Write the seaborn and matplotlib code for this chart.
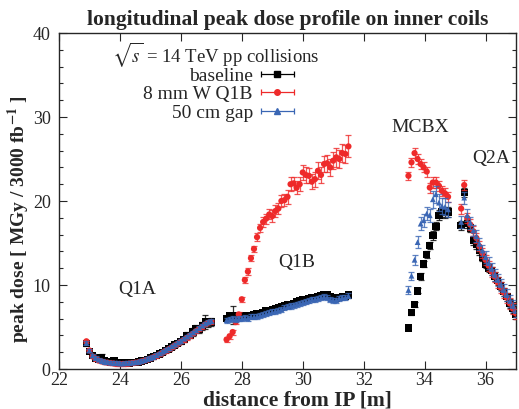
import numpy as np
import pandas as pd
import matplotlib
matplotlib.use("Agg")
import matplotlib.pyplot as plt
import seaborn as sns
from matplotlib.legend_handler import HandlerErrorbar
from matplotlib.container import ErrorbarContainer
from matplotlib.ticker import MultipleLocator

# ---------------- data ----------------
series_names = ["baseline", "8 mm W Q1B", "50 cm gap"]
series_colors = ["#000000", "#ee2a2a", "#3a66b4"]
series_markers = ["s", "o", "^"]

# Q1A region
x_q1a = np.round(np.arange(22.9, 27.05, 0.1), 2)
base_q1a = [3.0, 2.1, 1.6, 1.3, 1.2, 1.4, 1.0, 0.9, 0.85, 1.0, 0.8, 0.75, 0.7, 0.7,
            0.7, 0.75, 0.8, 0.85, 0.95, 1.05, 1.15, 1.3, 1.45, 1.6, 1.8, 2.0, 2.2,
            2.4, 2.6, 2.85, 3.05, 3.3, 3.5, 4.0, 4.0, 4.4, 4.85, 4.7, 5.1, 5.6, 5.5, 5.6]
red_q1a = [3.3, 2.2, 1.5, 1.2, 1.0, 0.9, 0.8, 0.75, 0.7, 0.65, 0.6, 0.6, 0.6, 0.6,
           0.65, 0.7, 0.75, 0.8, 0.9, 1.0, 1.1, 1.25, 1.4, 1.55, 1.75, 1.95, 2.15,
           2.35, 2.55, 2.8, 3.0, 3.25, 3.45, 3.7, 3.95, 4.2, 4.5, 4.75, 5.0, 5.3, 5.5, 5.6]
blue_q1a = [3.1, 2.2, 1.6, 1.3, 1.1, 0.95, 0.85, 0.8, 0.75, 0.7, 0.7, 0.65, 0.65, 0.7,
            0.7, 0.75, 0.8, 0.85, 0.95, 1.05, 1.2, 1.3, 1.45, 1.65, 1.85, 2.05, 2.25,
            2.45, 2.7, 2.9, 3.15, 3.35, 3.6, 3.85, 4.1, 4.35, 4.6, 4.9, 5.15, 5.4, 5.6, 5.7]
base_q1a_err = [0.3, 0.2, 0.2, 0.2, 0.3, 0.4, 0.2, 0.2, 0.2, 0.3, 0.2, 0.2, 0.2, 0.2,
                0.2, 0.2, 0.2, 0.2, 0.2, 0.2, 0.2, 0.2, 0.2, 0.2, 0.2, 0.2, 0.2,
                0.2, 0.2, 0.2, 0.2, 0.3, 0.3, 0.4, 0.3, 0.5, 0.4, 0.4, 0.5, 0.8, 0.5, 0.5]
red_q1a_err = [0.2] * 42
blue_q1a_err = [0.2] * 42

# Q1B region
x_q1b = np.round(np.arange(27.5, 31.55, 0.1), 2)
base_q1b = [6.0, 6.3, 6.4, 6.2, 6.3, 6.3, 6.4, 6.4, 6.4, 6.5, 6.6, 6.6, 6.7, 6.9,
            7.0, 7.1, 7.2, 7.3, 7.4, 7.5, 7.6, 7.7, 7.8, 8.0, 8.1, 8.2, 8.3, 8.4,
            8.5, 8.5, 8.6, 8.7, 8.8, 8.8, 8.6, 8.5, 8.4, 8.5, 8.6, 8.6, 8.8]
red_q1b = [3.5, 3.9, 4.4, 5.6, 6.5, 8.3, 10.6, 11.6, 13.2, 14.3, 15.7, 16.8, 17.5,
           17.9, 18.4, 18.2, 18.8, 19.1, 20.0, 20.1, 20.5, 22.0, 22.1, 21.6, 22.0,
           23.4, 23.1, 23.0, 22.3, 22.6, 23.6, 23.1, 24.4, 24.5, 24.0, 24.8, 25.2,
           25.0, 25.7, 25.6, 26.5]
blue_q1b = [5.8, 5.9, 6.0, 5.9, 6.0, 6.0, 6.1, 6.0, 6.2, 6.2, 6.3, 6.4, 6.5, 6.6,
            6.7, 6.8, 6.9, 7.0, 7.1, 7.3, 7.4, 7.5, 7.6, 7.7, 7.8, 7.9, 8.0, 8.1,
            8.3, 8.3, 8.4, 8.5, 8.6, 8.5, 8.3, 8.2, 8.2, 8.4, 8.5, 8.5, 8.7]
base_q1b_err = [0.3, 0.4, 1.1, 0.3, 0.3, 0.3, 0.3, 0.3, 0.3, 0.3, 0.3, 0.3, 0.3, 0.3,
                0.3, 0.3, 0.3, 0.3, 0.3, 0.3, 0.3, 0.3, 0.3, 0.3, 0.3, 0.3, 0.3, 0.3,
                0.3, 0.3, 0.3, 0.3, 0.3, 0.3, 0.3, 0.3, 0.3, 0.3, 0.3, 0.3, 0.3]
red_q1b_err = [0.3, 0.3, 0.3, 0.3, 0.3, 0.3, 0.4, 0.4, 0.4, 0.4, 0.5, 0.5, 0.6, 0.6,
               0.6, 0.7, 0.7, 0.7, 0.7, 0.7, 0.8, 0.8, 0.8, 0.8, 0.8, 0.9, 0.9, 0.9,
               0.9, 0.9, 1.0, 1.0, 1.0, 1.0, 1.0, 1.0, 1.1, 1.1, 1.1, 1.1, 1.3]
blue_q1b_err = [0.3] * 41

# MCBX region
x_mcbx = np.round(np.arange(33.47, 34.80, 0.1), 2)
base_mcbx = [4.9, 6.7, 7.7, 9.3, 11.0, 12.5, 13.6, 14.7, 15.9, 17.0, 18.3, 18.7, 18.6, 18.7]
red_mcbx = [23.0, 24.6, 25.7, 25.0, 24.4, 24.0, 23.5, 21.6, 22.2, 22.2, 21.8, 21.2, 20.9, 20.5]
blue_mcbx = [9.4, 11.1, 13.0, 15.1, 17.3, 17.7, 18.5, 18.3, 20.2, 20.8, 19.8, 19.4, 19.3, 19.0]
base_mcbx_err = [0.2, 0.3, 0.3, 0.3, 0.4, 0.4, 0.4, 0.4, 0.5, 0.5, 0.6, 0.6, 0.6, 0.6]
red_mcbx_err = [0.5, 0.5, 0.6, 0.6, 0.6, 0.6, 0.6, 0.6, 0.6, 0.6, 0.6, 0.6, 0.6, 0.6]
blue_mcbx_err = [0.5, 0.5, 0.6, 0.7, 0.8, 0.8, 0.8, 0.8, 1.0, 1.0, 1.0, 1.0, 1.0, 0.9]

# Q2A region
x_q2a = np.round(np.arange(35.2, 37.05, 0.1), 2)
base_q2a = [17.1, 21.0, 17.3, 16.8, 15.3, 14.8, 14.1, 13.3, 12.5, 12.0, 11.7, 11.0,
            10.5, 9.9, 9.2, 8.6, 7.8, 7.2, 6.5]
red_q2a = [19.1, 21.9, 18.0, 17.2, 16.4, 15.6, 14.6, 13.8, 13.0, 12.3, 11.6, 11.0,
           10.3, 9.7, 9.1, 8.5, 7.8, 7.2, 6.6]
blue_q2a = [17.5, 20.4, 18.3, 17.4, 16.5, 15.8, 14.9, 14.1, 13.3, 12.6, 11.9, 11.2,
            10.6, 10.0, 9.4, 8.8, 8.1, 7.5, 6.9]
base_q2a_err = [0.5] * 19
red_q2a_err = [0.6] * 19
blue_q2a_err = [0.7] * 19

region_labels = ["Q1A", "Q1B", "MCBX", "Q2A"]
region_label_x = [24.56, 29.81, 33.85, 36.2]
region_label_y = [9.5, 12.7, 28.7, 25.0]

# ---------------- build long table ----------------
xs = [x_q1a, x_q1b, x_mcbx, x_q2a]
vals = {
    "baseline": ([base_q1a, base_q1b, base_mcbx, base_q2a],
                 [base_q1a_err, base_q1b_err, base_mcbx_err, base_q2a_err]),
    "8 mm W Q1B": ([red_q1a, red_q1b, red_mcbx, red_q2a],
                   [red_q1a_err, red_q1b_err, red_mcbx_err, red_q2a_err]),
    "50 cm gap": ([blue_q1a, blue_q1b, blue_mcbx, blue_q2a],
                  [blue_q1a_err, blue_q1b_err, blue_mcbx_err, blue_q2a_err]),
}
rows = []
for name, (ys, es) in vals.items():
    for xx, yy, ee in zip(xs, ys, es):
        for a, b, c in zip(xx, yy, ee):
            rows.append((name, a, b, c))
df = pd.DataFrame(rows, columns=["series", "x", "dose", "err"])

# ---------------- plot ----------------
sns.set_theme(style="ticks")
plt.rcParams["font.family"] = ["Liberation Serif", "DejaVu Serif"]
plt.rcParams["mathtext.fontset"] = "stix"

fig = plt.figure(figsize=(5.19, 4.09), dpi=100)
ax = fig.add_axes([59 / 519, 1 - 369 / 409, 457 / 519, 336 / 409])

sizes = {"baseline": 28, "8 mm W Q1B": 20, "50 cm gap": 17}
for i, (name, col, mk) in enumerate(zip(series_names, series_colors, series_markers)):
    sub = df[df["series"] == name]
    ax.errorbar(sub["x"], sub["dose"], yerr=sub["err"], fmt="none", ecolor=col,
                elinewidth=0.9, capsize=2.5, capthick=0.9, alpha=0.8, zorder=2 + 2 * i)
    sns.scatterplot(data=sub, x="x", y="dose", marker=mk, color=col, s=sizes[name],
                    edgecolor="none", linewidth=0, ax=ax, legend=False, zorder=3 + 2 * i)

for t, lx, ly in zip(region_labels, region_label_x, region_label_y):
    ax.text(lx, ly, t, ha="center", va="center", fontsize=14)

ax.set_xlim(22, 37)
ax.set_ylim(0, 40)
ax.xaxis.set_major_locator(MultipleLocator(2))
ax.yaxis.set_major_locator(MultipleLocator(10))
ax.yaxis.set_minor_locator(MultipleLocator(2))
ax.tick_params(axis="both", which="both", direction="in", top=True, right=True,
               labelsize=13)
ax.tick_params(axis="x", pad=2)
ax.tick_params(axis="y", pad=6)
ax.tick_params(which="major", length=6, width=0.8)
ax.tick_params(which="minor", length=3, width=0.8)
for sp in ax.spines.values():
    sp.set_linewidth(1.0)
    sp.set_visible(True)

ax.set_xlabel("distance from IP [m]", fontsize=15.5, fontweight="bold")
ax.xaxis.set_label_coords(0.522, -0.064)
ax.set_ylabel(r"peak dose [ MGy / 3000 fb$^{\mathbf{-1}}$ ]", fontsize=14,
              fontweight="bold")
ax.yaxis.set_label_coords(-0.058, 0.445)
ax.set_title("longitudinal peak dose profile on inner coils", fontsize=15.5,
             fontweight="bold", pad=6)

# legend (gnuplot-like key)
handles = []
for name, col, mk in zip(series_names, series_colors, series_markers):
    h = ax.errorbar([np.nan], [np.nan], xerr=[0.0], fmt=mk, color=col, ms=4,
                    elinewidth=0.9, capsize=2.5, capthick=0.9, label=name)
    handles.append(h)
ax.text(0.116, 0.937, r"$\sqrt{s}$ = 14 TeV pp collisions", transform=ax.transAxes,
        ha="left", va="center", fontsize=13.5)
leg = ax.legend(handles=handles, labels=series_names, loc="upper right",
                bbox_to_anchor=(0.535, 0.928), frameon=False, markerfirst=False,
                fontsize=14, handlelength=1.7, handletextpad=0.4, labelspacing=0.05,
                borderpad=0.0, numpoints=1,
                handler_map={ErrorbarContainer: HandlerErrorbar(xerr_size=0.85)})

fig.savefig("out.png", dpi=100)
